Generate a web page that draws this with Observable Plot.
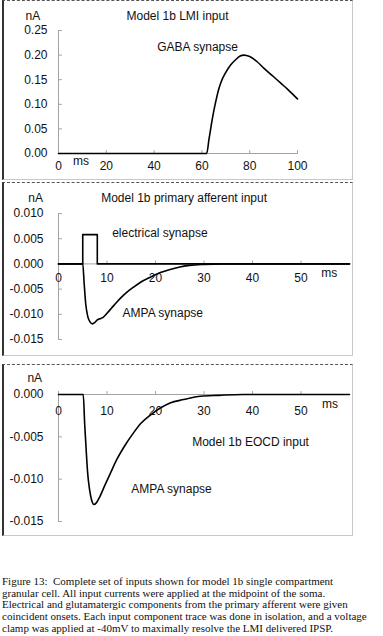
<!DOCTYPE html>
<html>
<head>
<meta charset="utf-8">
<script src="https://cdn.jsdelivr.net/npm/d3@7"></script>
<script src="https://cdn.jsdelivr.net/npm/@observablehq/plot@0.6"></script>
<style>
  html, body { margin: 0; padding: 0; background: #fff; }
  #page { position: relative; width: 383px; height: 636px; overflow: hidden; background: #fff; }
  .chart { position: absolute; left: 0; }
  .box { position: absolute; box-sizing: border-box; pointer-events: none;
         border-left: 2px solid #333; border-top: 1px dashed #555;
         border-right: 1px solid #c8c8c8; border-bottom: 1px solid #c8c8c8; }
  #caption { position: absolute; left: 2px; top: 576px; font-family: "Liberation Serif", "Times New Roman", serif;
             font-size: 11px; line-height: 11.7px; white-space: pre; color: #111; }
</style>
</head>
<body>
<div id="page">
  <div class="chart" id="c1" style="top:0px"></div>
  <div class="chart" id="c2" style="top:180px"></div>
  <div class="chart" id="c3" style="top:360px"></div>
  <div class="box" style="left:2px; top:0px; width:351px; height:180px"></div>
  <div class="box" style="left:2px; top:182px; width:351px; height:174px"></div>
  <div class="box" style="left:2px; top:364px; width:351px; height:172px"></div>
  <div id="caption"></div>
</div>
<script>
// ---------- Panel 1: Model 1b LMI input (GABA synapse) ----------
const p1Time = [0, 62, 63, 64, 65, 66, 67, 68, 70, 72, 74, 76, 77.5, 80, 83, 86, 90, 93, 96, 100];
const p1Gaba = [0, 0, 0.03, 0.06, 0.087, 0.11, 0.13, 0.145, 0.165, 0.18, 0.19, 0.198, 0.2, 0.197, 0.187, 0.173, 0.156, 0.143, 0.13, 0.111];
const p1XTicks = [0, 20, 40, 60, 80, 100];
const p1XTickLabels = ["0", "20", "40", "60", "80", "100"];
const p1YTicks = [0, 0.05, 0.10, 0.15, 0.20, 0.25];
const p1YTickLabels = ["0.00", "0.05", "0.10", "0.15", "0.20", "0.25"];
const p1Labels = [
  {x: -10.7, y: 0.2795, text: "nA"},
  {x: 49.8, y: 0.279, text: "Model 1b LMI input"},
  {x: 58.2, y: 0.2154, text: "GABA synapse"},
  {x: 9.4, y: -0.0163, text: "ms"}
];

// ---------- Panel 2: Model 1b primary afferent input ----------
const p2ElecTime = [0, 5, 5, 8, 8, 60];
const p2ElecValue = [0, 0, 0.0058, 0.0058, 0, 0];
const p2AmpaTime = [0, 5, 5.3, 5.6, 6.0, 6.5, 7.0, 7.5, 8.0, 8.5, 9.2, 10, 11, 12, 13, 14, 15.5, 17, 19, 21, 23, 25, 27, 30, 34, 60];
const p2AmpaValue = [0, 0, -0.004, -0.0078, -0.0103, -0.0115, -0.0119, -0.0116, -0.0111, -0.0109, -0.0106, -0.0098, -0.0087, -0.0076, -0.0066, -0.0057, -0.0046, -0.0036, -0.0026, -0.0017, -0.0011, -0.0006, -0.0003, -0.0001, 0, 0];
const p2XTicks = [0, 10, 20, 30, 40, 50];
const p2XTickLabels = ["0", "10", "20", "30", "40", "50"];
const p2YTicks = [0.010, 0.005, 0, -0.005, -0.010, -0.015];
const p2YTickLabels = ["0.010", "0.005", "0.000", "-0.005", "-0.010", "-0.015"];
const p2Labels = [
  {x: -4.7, y: 0.01304, text: "nA"},
  {x: 25.9, y: 0.01304, text: "Model 1b primary afferent input"},
  {x: 20.9, y: 0.00619, text: "electrical synapse"},
  {x: 21.5, y: -0.00982, text: "AMPA synapse"},
  {x: 55.8, y: -0.00192, text: "ms"}
];

// ---------- Panel 3: Model 1b EOCD input ----------
const p3Time = [0, 5.1, 5.4, 5.7, 6.0, 6.4, 6.8, 7.3, 7.8, 8.5, 9.5, 10.7, 12, 13.5, 15.5, 17, 19, 21, 23, 25.8, 29.3, 33, 38, 60];
const p3Ampa = [0, 0, -0.0035, -0.0065, -0.0092, -0.0112, -0.0124, -0.013, -0.0128, -0.0121, -0.0108, -0.0093, -0.0077, -0.0062, -0.0045, -0.0034, -0.0024, -0.0016, -0.001, -0.0006, -0.0002, -0.0001, 0, 0];
const p3XTicks = [0, 10, 20, 30, 40, 50];
const p3XTickLabels = ["0", "10", "20", "30", "40", "50"];
const p3YTicks = [0, -0.005, -0.010, -0.015];
const p3YTickLabels = ["0.000", "-0.005", "-0.010", "-0.015"];
const p3Labels = [
  {x: -4.9, y: 0.00189, text: "nA"},
  {x: 39.6, y: -0.00563, text: "Model 1b EOCD input"},
  {x: 23.3, y: -0.01122, text: "AMPA synapse"},
  {x: 56.0, y: -0.00118, text: "ms"}
];

const captionLines = [
  "Figure 13:  Complete set of inputs shown for model 1b single compartment",
  "granular cell. All input currents were applied at the midpoint of the soma.",
  "Electrical and glutamatergic components from the primary afferent were given",
  "coincident onsets. Each input component trace was done in isolation, and a voltage",
  "clamp was applied at -40mV to maximally resolve the LMI delivered IPSP."
];

// ---------- helpers ----------
const AXIS = "#a3a3a3";
const INK = "#111";
const tickShape = {draw(context, l) { context.moveTo(0, 0); context.lineTo(0, -l); }};
const zip = (xs, ys) => xs.map((x, i) => ({x, y: ys[i]}));

function panel({xDomain, yDomain, margins, xTicks, xTickLabels, xLabelDy, yTicks, yTickLabels, yLabelDx, series, labels}) {
  return Plot.plot({
    width: 383, height: 180,
    marginLeft: margins[0], marginRight: margins[1], marginTop: margins[2], marginBottom: margins[3],
    style: {fontFamily: "'Liberation Sans', Arial, sans-serif", fontSize: "12px", background: "transparent", overflow: "visible", color: INK},
    x: {domain: xDomain, axis: null},
    y: {domain: yDomain, axis: null},
    marks: [
      // axis lines
      Plot.ruleX([0], {y1: yDomain[0], y2: yDomain[1], stroke: AXIS, strokeWidth: 1}),
      Plot.ruleY([0], {x1: xDomain[0], x2: d3.max(xDomain), stroke: AXIS, strokeWidth: 1}),
      // ticks (pointing inward)
      Plot.vector(yTicks, {x: 0, y: d => d, length: 3, rotate: 90, anchor: "start", shape: tickShape, stroke: AXIS, strokeWidth: 1}),
      Plot.vector(xTicks, {x: d => d, y: 0, length: 3, rotate: 0, anchor: "start", shape: tickShape, stroke: AXIS, strokeWidth: 1}),
      // data
      ...series.map(s => Plot.line(s.data, {x: "x", y: "y", stroke: "#000", strokeWidth: 1.6, curve: s.curve})),
      // tick labels
      Plot.text(yTicks, {x: 0, y: d => d, text: (d, i) => yTickLabels[i], textAnchor: "end", dx: yLabelDx, fill: INK}),
      Plot.text(xTicks, {x: d => d, y: 0, text: (d, i) => xTickLabels[i], dy: xLabelDy, fill: INK}),
      // annotations
      Plot.text(labels, {x: "x", y: "y", text: "text", fill: INK})
    ]
  });
}

document.getElementById("c1").append(panel({
  xDomain: [0, 100], yDomain: [0, 0.25], margins: [58, 86, 30, 27],
  xTicks: p1XTicks, xTickLabels: p1XTickLabels, xLabelDy: 13,
  yTicks: p1YTicks, yTickLabels: p1YTickLabels, yLabelDx: -11,
  series: [{data: zip(p1Time, p1Gaba), curve: "monotone-x"}],
  labels: p1Labels
}));

document.getElementById("c2").append(panel({
  xDomain: [0, 60], yDomain: [-0.015, 0.010], margins: [58, 34, 33, 21],
  xTicks: p2XTicks, xTickLabels: p2XTickLabels, xLabelDy: 14.5,
  yTicks: p2YTicks, yTickLabels: p2YTickLabels, yLabelDx: -15,
  series: [{data: zip(p2ElecTime, p2ElecValue), curve: "linear"}, {data: zip(p2AmpaTime, p2AmpaValue), curve: "monotone-x"}],
  labels: p2Labels
}));

document.getElementById("c3").append(panel({
  xDomain: [0, 60], yDomain: [-0.015, 0], margins: [58, 34, 34, 19],
  xTicks: p3XTicks, xTickLabels: p3XTickLabels, xLabelDy: 16.5,
  yTicks: p3YTicks, yTickLabels: p3YTickLabels, yLabelDx: -15,
  series: [{data: zip(p3Time, p3Ampa), curve: "monotone-x"}],
  labels: p3Labels
}));

document.getElementById("caption").textContent = captionLines.join("\n");
</script>
</body>
</html>
